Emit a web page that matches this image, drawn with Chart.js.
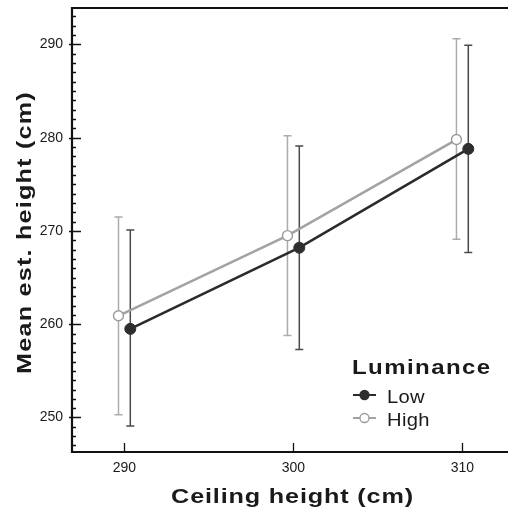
<!DOCTYPE html>
<html>
<head>
<meta charset="utf-8">
<script src="https://cdn.jsdelivr.net/npm/chart.js@4.4.0/dist/chart.umd.min.js"></script>
<style>
html,body{margin:0;padding:0;background:#fff;overflow:hidden}
#wrap{width:508px;height:514px}
</style>
</head>
<body>
<div id="wrap"><canvas id="c" width="508" height="514"></canvas></div>
<script>
// ceiling heights (cm) and mean estimated heights with error bar ends
const ceilings = [290, 300, 310];
const lowMean  = [259.5, 268.2, 278.8];
const lowUpper = [270.1, 279.1, 289.9];
const lowLower = [249.1, 257.3, 267.7];
const highMean  = [260.9, 269.5, 279.8];
const highUpper = [271.5, 280.2, 290.6];
const highLower = [250.3, 258.8, 269.1];
const xTicks = [290, 300, 310];
const yTicks = [250, 260, 270, 280, 290];

const FONT = "'Liberation Sans', Arial, Helvetica, sans-serif";
const LOW_COL = '#2b2b2b', HIGH_COL = '#a3a3a3';
const DODGE = 0.35; // small horizontal shift so the two groups don't overlap

const pts = (means, shift) => ceilings.map((c, i) => ({ x: c + shift, y: means[i] }));

// text in the figure is a bit wider than plain Arial, so stretch it a little
function wideText(ctx, txt, x, y, sx, spacing, align) {
  ctx.save();
  ctx.translate(x, y);
  ctx.scale(sx, 1);
  ctx.letterSpacing = spacing + 'px';
  ctx.textAlign = align;
  ctx.fillText(txt, 0, 0);
  ctx.restore();
}

const decor = {
  id: 'decor',
  beforeDatasetsDraw(chart) {
    const { ctx, scales: { x, y } } = chart;
    const bars = [
      { lo: highLower, hi: highUpper, shift: -DODGE, col: '#ababab' },
      { lo: lowLower, hi: lowUpper, shift: DODGE, col: '#4a4a4a' }
    ];
    ctx.save();
    ctx.lineWidth = 1.5;
    bars.forEach(b => {
      ctx.strokeStyle = b.col;
      ceilings.forEach((c, i) => {
        const px = x.getPixelForValue(c + b.shift);
        const p1 = y.getPixelForValue(b.hi[i]), p2 = y.getPixelForValue(b.lo[i]);
        ctx.beginPath();
        ctx.moveTo(px, p1); ctx.lineTo(px, p2);
        ctx.moveTo(px - 4, p1); ctx.lineTo(px + 4, p1);
        ctx.moveTo(px - 4, p2); ctx.lineTo(px + 4, p2);
        ctx.stroke();
      });
    });
    ctx.restore();
  },
  afterDraw(chart) {
    const { ctx, chartArea: a, scales: { x, y } } = chart;
    ctx.save();
    // frame: left, top, bottom
    ctx.strokeStyle = '#111';
    ctx.lineWidth = 2.2;
    ctx.beginPath();
    ctx.moveTo(a.right + 2, a.top); ctx.lineTo(a.left, a.top);
    ctx.lineTo(a.left, a.bottom); ctx.lineTo(a.right + 2, a.bottom);
    ctx.stroke();

    // y ticks: majors cross the axis, minors inside
    ctx.lineWidth = 1.3;
    ctx.beginPath();
    for (let v = Math.ceil(y.min); v <= y.max; v++) {
      const py = Math.round(y.getPixelForValue(v)) + 0.5;
      if (v % 10 === 0) { ctx.moveTo(a.left - 3, py); ctx.lineTo(a.left + 9, py); }
      else { ctx.moveTo(a.left, py); ctx.lineTo(a.left + 4, py); }
    }
    // x ticks point inward
    xTicks.forEach(v => {
      const px = Math.round(x.getPixelForValue(v)) + 0.5;
      ctx.moveTo(px, a.bottom); ctx.lineTo(px, a.bottom - 9);
    });
    ctx.stroke();

    // axis titles
    ctx.fillStyle = '#1a1a1a';
    ctx.textBaseline = 'alphabetic';
    ctx.font = 'bold 21px ' + FONT;
    wideText(ctx, 'Ceiling height (cm)', 292.5, 503, 1.2, 0.7, 'center');
    ctx.save();
    ctx.translate(31, 232.5);
    ctx.rotate(-Math.PI / 2);
    wideText(ctx, 'Mean est. height (cm)', 0, 0, 1.2, 1, 'center');
    ctx.restore();

    // legend
    const lx = 352;
    ctx.font = 'bold 20px ' + FONT;
    wideText(ctx, 'Luminance', lx, 374, 1.2, 1.2, 'left');
    ctx.font = '18px ' + FONT;
    chart.data.datasets.forEach((ds, i) => {
      const cy = 395 + i * 23;
      ctx.strokeStyle = ds.borderColor;
      ctx.lineWidth = 2;
      ctx.beginPath(); ctx.moveTo(lx + 1, cy); ctx.lineTo(lx + 24, cy); ctx.stroke();
      ctx.beginPath(); ctx.arc(lx + 12.5, cy, 4.5, 0, Math.PI * 2);
      ctx.fillStyle = ds.pointBackgroundColor; ctx.fill();
      ctx.lineWidth = 1.3; ctx.strokeStyle = ds.pointBorderColor; ctx.stroke();
      ctx.fillStyle = '#1a1a1a';
      wideText(ctx, ds.label, lx + 35, cy + 8, 1.12, 0.3, 'left');
    });
    ctx.restore();
  }
};

new Chart(document.getElementById('c'), {
  type: 'line',
  data: {
    datasets: [
      {
        label: 'Low', data: pts(lowMean, DODGE),
        borderColor: LOW_COL, borderWidth: 2.6,
        pointBackgroundColor: '#2e2e2e', pointBorderColor: '#2e2e2e',
        pointRadius: 5.5, pointBorderWidth: 1
      },
      {
        label: 'High', data: pts(highMean, -DODGE),
        borderColor: HIGH_COL, borderWidth: 2.6,
        pointBackgroundColor: '#ffffff', pointBorderColor: '#9a9a9a',
        pointRadius: 5, pointBorderWidth: 1.4
      }
    ]
  },
  options: {
    responsive: false,
    animation: false,
    devicePixelRatio: 1,
    layout: { autoPadding: false, padding: { top: 8, right: 0, left: 0, bottom: 0 } },
    plugins: { legend: { display: false }, tooltip: { enabled: false } },
    scales: {
      x: {
        type: 'linear', min: 286.9, max: 312.7,
        grid: { display: false, drawTicks: false },
        border: { display: false },
        afterBuildTicks: s => { s.ticks = xTicks.map(v => ({ value: v })); },
        afterFit: s => { s.height = 62; s.paddingLeft = 0; s.paddingRight = 0; },
        ticks: { padding: 8, color: '#1a1a1a', font: { family: FONT, size: 14 }, maxRotation: 0 }
      },
      y: {
        type: 'linear', min: 246.3, max: 293.9,
        grid: { display: false, drawTicks: false },
        border: { display: false },
        afterBuildTicks: s => { s.ticks = yTicks.map(v => ({ value: v })); },
        afterFit: s => { s.width = 72; s.paddingTop = 0; s.paddingBottom = 0; },
        ticks: { padding: 9, color: '#1a1a1a', font: { family: FONT, size: 14 } }
      }
    }
  },
  plugins: [decor]
});
</script>
</body>
</html>
